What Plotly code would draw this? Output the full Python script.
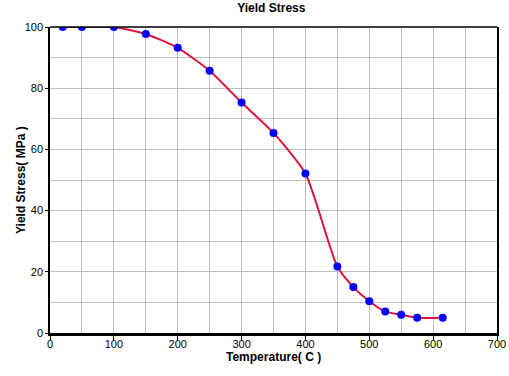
import plotly.graph_objects as go

temperature = [20, 50, 100, 150, 200, 250, 300, 350, 400, 450, 475, 500, 525, 550, 575, 615]
yield_stress = [100, 100, 100, 97.7, 93.2, 85.7, 75.3, 65.4, 52.1, 21.7, 15.0, 10.4, 7.0, 6.0, 5.0, 5.0]

title_text = "Yield Stress"
x_title = "Temperature( C )"
y_title = "Yield Stress( MPa )"

font_family = "Liberation Sans, Arial, sans-serif"

fig = go.Figure()
fig.add_trace(go.Scatter(
    x=temperature, y=yield_stress, mode="lines+markers",
    line=dict(color="#DC143C", width=2, shape="spline", smoothing=0.6),
    marker=dict(color="#0000FF", size=8, symbol="circle"),
    showlegend=False,
))

fig.update_layout(
    width=509, height=376,
    margin=dict(l=50, r=12, t=27, b=43),
    paper_bgcolor="white", plot_bgcolor="white",
    font=dict(family=font_family, size=11, color="black"),
    title=dict(text="<b>" + title_text + "</b>", x=0.533, xanchor="center", y=0.99, yanchor="top",
               font=dict(family=font_family, size=12, color="black")),
    xaxis=dict(
        range=[0, 700], tickvals=[0, 100, 200, 300, 400, 500, 600, 700],
        showgrid=True, gridcolor="#C0C0C0", gridwidth=1,
        minor=dict(dtick=50, showgrid=True, gridcolor="#C0C0C0", gridwidth=1),
        ticks="outside", ticklen=4, tickcolor="black", ticklabelstandoff=-5,
        showline=True, linecolor="black", linewidth=3,
        zeroline=False, automargin=False,
    ),
    yaxis=dict(
        range=[0, 100], tickvals=[0, 20, 40, 60, 80, 100],
        showgrid=True, gridcolor="#C0C0C0", gridwidth=1,
        minor=dict(dtick=10, showgrid=True, gridcolor="#C0C0C0", gridwidth=1),
        ticks="outside", ticklen=3, tickcolor="black",
        showline=True, linecolor="black", linewidth=1.5, mirror=True,
        zeroline=False, automargin=False,
    ),
    shapes=[dict(type="line", xref="paper", yref="paper", x0=0, x1=1, y0=1, y1=1,
                 line=dict(color="black", width=1.5))],
    annotations=[
        dict(text="<b>" + x_title + "</b>", xref="paper", yref="paper", x=0.5, y=-0.078,
             xanchor="center", yanchor="middle", showarrow=False, borderpad=0,
             font=dict(family=font_family, size=12, color="black")),
        dict(text="<b>" + y_title + "</b>", xref="paper", yref="paper", x=-0.065, y=0.5,
             xanchor="center", yanchor="middle", textangle=-90, showarrow=False,
             font=dict(family=font_family, size=12, color="black")),
    ],
)

fig.write_html("out.html", config={"displayModeBar": False},
               post_script="document.body.style.margin='0px';")
